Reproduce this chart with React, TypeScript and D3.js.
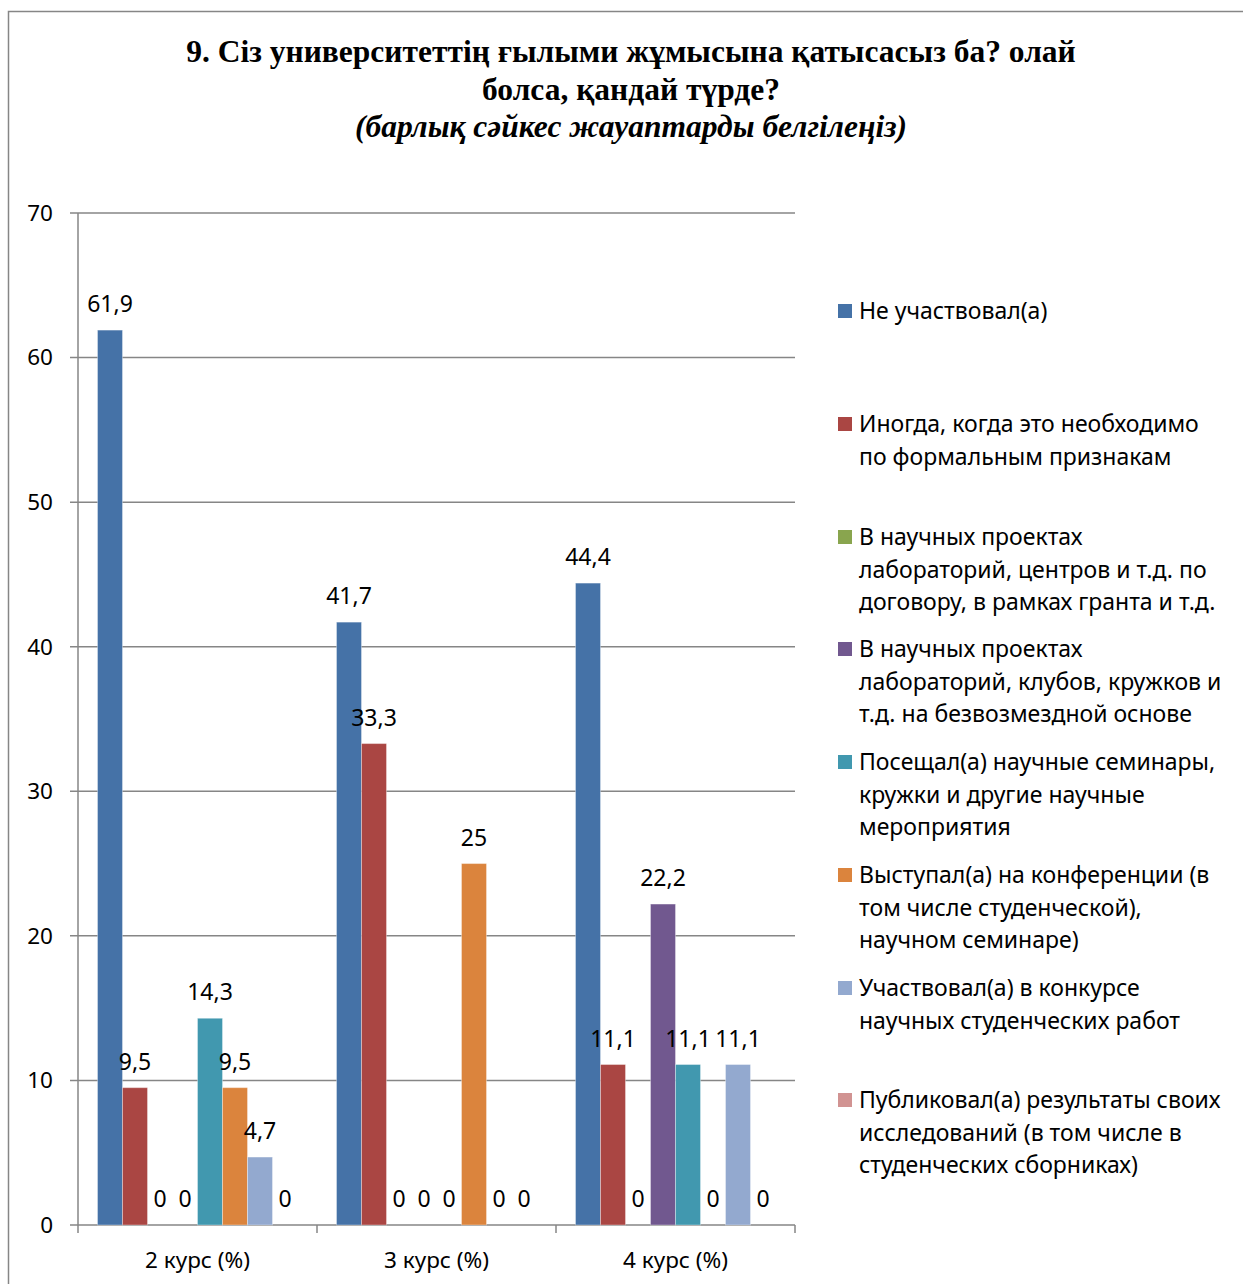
import React from "react";
import * as d3 from "d3";

const categories = ["2 курс (%)", "3 курс (%)", "4 курс (%)"];
const seriesNames = [
  "Не участвовал(а)",
  "Иногда, когда это необходимо по формальным признакам",
  "В научных проектах лабораторий, центров и т.д. по договору, в рамках гранта и т.д.",
  "В научных проектах лабораторий, клубов, кружков и т.д. на безвозмездной основе",
  "Посещал(а) научные семинары, кружки и другие научные мероприятия",
  "Выступал(а) на конференции (в том числе студенческой), научном семинаре)",
  "Участвовал(а) в конкурсе научных студенческих работ",
  "Публиковал(а) результаты своих исследований (в том числе в студенческих сборниках)",
];
const legendLines = [
  ["Не участвовал(а)"],
  ["Иногда, когда это необходимо", "по формальным признакам"],
  ["В научных проектах", "лабораторий, центров и т.д. по", "договору, в рамках гранта и т.д."],
  ["В научных проектах", "лабораторий, клубов, кружков и", "т.д. на безвозмездной основе"],
  ["Посещал(а) научные семинары,", "кружки и другие научные", "мероприятия"],
  ["Выступал(а) на конференции (в", "том числе студенческой),", "научном семинаре)"],
  ["Участвовал(а) в конкурсе", "научных студенческих работ"],
  ["Публиковал(а) результаты своих", "исследований (в том числе в", "студенческих сборниках)"],
];
// values[series][category]
const notParticipated = [61.9, 41.7, 44.4];
const sometimesFormal = [9.5, 33.3, 11.1];
const grantProjects = [0, 0, 0];
const freeProjects = [0, 0, 22.2];
const seminars = [14.3, 0, 11.1];
const conferences = [9.5, 25, 0];
const contests = [4.7, 0, 11.1];
const published = [0, 0, 0];
const values = [notParticipated, sometimesFormal, grantProjects, freeProjects, seminars, conferences, contests, published];
const colors = ["#4572A7", "#AA4643", "#89A54E", "#71588F", "#4198AF", "#DB843D", "#93A9CF", "#D19392"];
const yTicks = [0, 10, 20, 30, 40, 50, 60, 70];

const FONT = "'Noto Sans', sans-serif";

export default function App() {
  const W = 1243, H = 1284;
  const left = 78, right = 795, top = 213, bottom = 1225;
  const y = d3.scaleLinear().domain([0, 70]).range([bottom, top]);
  const x0 = d3.scaleBand<string>().domain(categories).range([left, right]);
  const x1 = d3.scaleBand<number>().domain(d3.range(seriesNames.length)).range([0, x0.bandwidth()]).paddingOuter(0.78);
  const fmt = (v: number) => String(v).replace(".", ",");
  const legendStarts = [311, 424, 537, 649, 762, 875, 988, 1100];

  return (
    <svg width={W} height={H} style={{ position: "absolute", left: 0, top: 0, background: "#fff" }}>
      <rect x={8.5} y={11.5} width={1260} height={1300} fill="#fff" stroke="#868686" strokeWidth={1.5} />
      <g fontFamily="'Liberation Serif', 'Times New Roman', serif" fontWeight="bold" fontSize={31.5} textAnchor="middle" fill="#000">
        <text x={631} y={62}>9. Сіз университеттің ғылыми жұмысына қатысасыз ба? олай</text>
        <text x={631} y={99.5}>болса, қандай түрде?</text>
        <text x={631} y={137} fontStyle="italic">(барлық сәйкес жауаптарды белгілеңіз)</text>
      </g>
      {/* gridlines */}
      {yTicks.map((t) => (
        <line key={t} x1={left - 8} x2={right} y1={y(t)} y2={y(t)} stroke="#868686" strokeWidth={1.5} />
      ))}
      <line x1={left} x2={left} y1={top} y2={bottom} stroke="#868686" strokeWidth={1.5} />
      {categories.concat([""]).map((_, i) => {
        const xx = left + i * x0.step();
        return <line key={i} x1={xx} x2={xx} y1={bottom} y2={bottom + 8} stroke="#868686" strokeWidth={1.5} />;
      })}
      <g fontFamily={FONT} fontSize={22.5} fill="#000">
        {yTicks.map((t) => (
          <text key={t} x={53} y={y(t)} dy="0.35em" textAnchor="end">{t}</text>
        ))}
        {categories.map((c) => (
          <text key={c} x={(x0(c) as number) + x0.bandwidth() / 2} y={1268} textAnchor="middle">{c}</text>
        ))}
      </g>
      {/* bars */}
      {categories.map((c, ci) => (
        <g key={c} transform={`translate(${x0(c)},0)`}>
          {values.map((vals, si) => {
            const v = vals[ci];
            const bx = x1(si) as number;
            return (
              <g key={si}>
                {v > 0 && (
                  <rect x={bx} y={y(v)} width={x1.bandwidth()} height={bottom - y(v)} fill={colors[si]} stroke="#fff" strokeOpacity={0.35} strokeWidth={1} />
                )}
              </g>
            );
          })}
        </g>
      ))}
      {/* labels */}
      <g fontFamily={FONT} fontSize={23} fill="#000" textAnchor="middle">
        {categories.map((c, ci) =>
          values.map((vals, si) => {
            const v = vals[ci];
            const cx = (x0(c) as number) + (x1(si) as number) + x1.bandwidth() / 2;
            return (
              <text key={c + si} x={cx} y={y(v) - 18}>{fmt(v)}</text>
            );
          })
        )}
      </g>
      {/* legend */}
      <g fontFamily={FONT} fontSize={23} fill="#000">
        {legendLines.map((lines, i) => (
          <g key={i}>
            <rect x={838} y={legendStarts[i] - 7} width={14} height={14} fill={colors[i]} />
            {lines.map((ln, li) => (
              <text key={li} x={859} y={legendStarts[i] + li * 32.7} dy="0.35em">{ln}</text>
            ))}
          </g>
        ))}
      </g>
    </svg>
  );
}
